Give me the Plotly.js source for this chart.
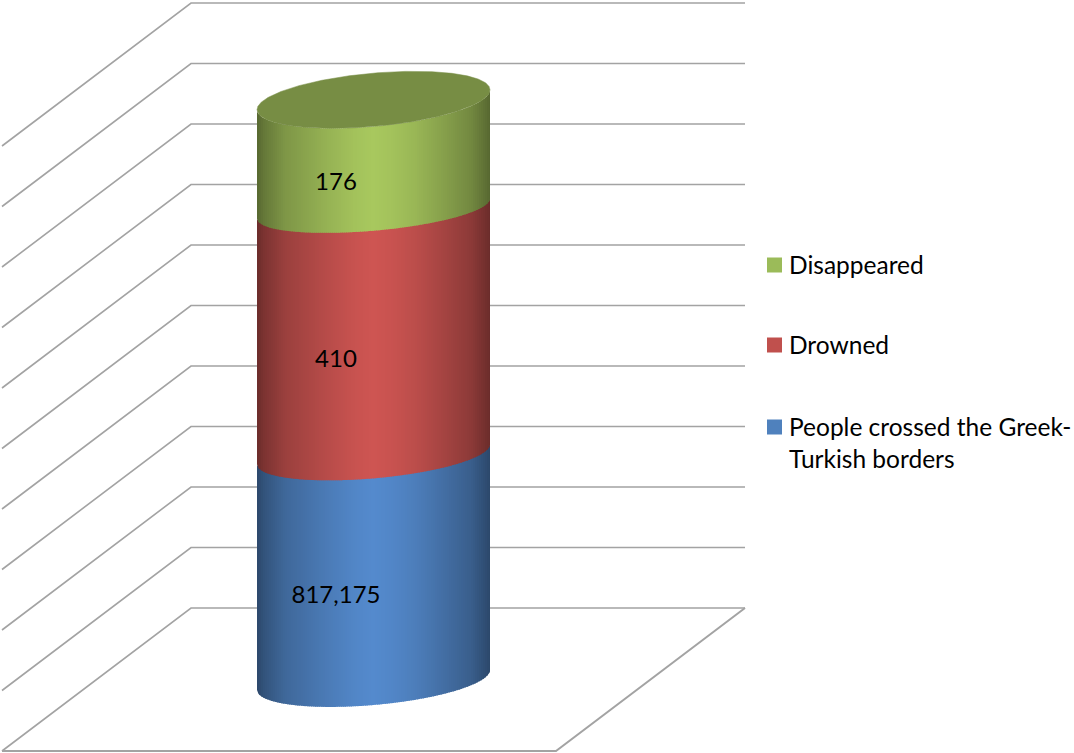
<!DOCTYPE html>
<html><head><meta charset="utf-8">
<script src="https://cdn.plot.ly/plotly-3.0.1.min.js"></script>
<style>html,body{margin:0;padding:0;background:#fff}#c{width:1074px;height:753px}</style>
</head><body><div id="c"></div>
<script>
// ---- data ----
const seriesNames = ["People crossed the Greek-Turkish borders", "Drowned", "Disappeared"];
const seriesValues = [817175, 410, 176];
// drawn height of each stacked segment, in gridline steps (as the 3-D picture shows it)
const segmentHeights = [3.73, 4.06, 1.80];
const gridTicks = [0,1,2,3,4,5,6,7,8,9,10];
const peakColors = [[84,138,205],[206,85,82],[168,200,94]];
const legendOrder = [2,1,0];
const legendLabels = ["Disappeared","Drowned","People crossed the Greek-<br>Turkish borders"];

// ---- layout constants ----
const W=1074,H=753,STEP=60.5,Y0=608;
const yRange=[(Y0-H)/STEP,(Y0-0)/STEP];
const wallL=191,wallR=745,depthX=189,depthY=143/STEP;
const cylL=257,cylR=490,cx=(cylL+cylR)/2,a=(cylR-cylL)/2;
const baseV=(Y0-680)/STEP, slope=(20/233)/STEP;   // rim tilt, steps per x unit
const rimB=[25,24,22,26.7].map(d=>d/STEP);
const GRID="#a3a3a3", FONT="Lato, Carlito, 'Open Sans', sans-serif";
const shade=[[0,.52],[.03,.6],[.12,.75],[.3,.89],[.42,.97],[.5,1],[.58,.97],[.68,.91],[.8,.8],[.92,.68],[1,.52]];
function factor(u){for(let i=1;i<shade.length;i++){if(u<=shade[i][0]){const t=(u-shade[i-1][0])/(shade[i][0]-shade[i-1][0]);return shade[i-1][1]+t*(shade[i][1]-shade[i-1][1]);}}return shade[shade.length-1][1];}

const traces=[];
// gridlines: wall + side wall
gridTicks.forEach(v=>{
  traces.push({type:"scatter",mode:"lines",x:[wallL-depthX,wallL,wallR],y:[v-depthY,v,v],
    line:{color:GRID,width:1.6},hoverinfo:"skip",showlegend:false});
});
// floor
traces.push({type:"scatter",mode:"lines",x:[wallL-depthX,wallR-depthX,wallR],y:[-depthY,-depthY,0],
  line:{color:GRID,width:2},hoverinfo:"skip",showlegend:false});

// cylinder
const boundaries=[baseV];
segmentHeights.forEach(h=>boundaries.push(boundaries[boundaries.length-1]+h));
function arc(x,i,sign){const d=Math.max(0,1-((x-cx)/a)**2);return boundaries[i]+slope*(x-cx)-sign*rimB[i]*Math.sqrt(d);}
const stripW=2;
seriesNames.forEach((name,s)=>{
  for(let x0=cylL;x0<cylR;x0+=stripW){
    const x1=Math.min(x0+stripW+0.8,cylR);
    const f=factor((x0+stripW/2-cylL)/(cylR-cylL));
    const col=peakColors[s].map(c=>Math.round(c*f));
    const xs=[],ys=[];
    const n=4;
    for(let k=0;k<=n;k++){const x=x0+(x1-x0)*k/n;xs.push(x);ys.push(arc(x,s,1));}
    for(let k=n;k>=0;k--){const x=x0+(x1-x0)*k/n;xs.push(x);ys.push(arc(x,s+1,1)+(s<2?1/STEP:0));}
    traces.push({type:"scatter",mode:"lines",x:xs,y:ys,fill:"toself",fillcolor:`rgb(${col})`,
      line:{width:0,color:`rgb(${col})`},name:name,hoverinfo:"skip",showlegend:false});
  }
});
// top cap
const capX=[],capY=[];
for(let x=cylL;x<=cylR;x+=1){capX.push(x);capY.push(arc(x,3,1));}
for(let x=cylR;x>=cylL;x-=1){capX.push(x);capY.push(arc(x,3,-1));}
traces.push({type:"scatter",mode:"lines",x:capX,y:capY,fill:"toself",fillcolor:"#778d44",
  line:{width:0.5,color:"#778d44"},hoverinfo:"skip",showlegend:false});

// data labels
const labelX=cx-37.5;
traces.push({type:"scatter",mode:"text",
  x:seriesValues.map(()=>labelX),
  y:seriesValues.map((_,i)=>(boundaries[i]+boundaries[i+1])/2-29.5/STEP),
  text:seriesValues.map(v=>v.toLocaleString("en-US")),
  textposition:"middle center",textfont:{family:FONT,size:24,color:"#000"},
  hoverinfo:"skip",showlegend:false});

// legend (in page fractions)
const legendRowsPx=[265,345,427];
const swatchColors=["#9bbb59","#c0504d","#4f81bd"];
const shapes=[],annotations=[];
legendOrder.forEach((s,i)=>{
  const yc=1-legendRowsPx[i]/H;
  shapes.push({type:"rect",xref:"paper",yref:"paper",x0:767/W,x1:782/W,
    y0:yc-7.5/H,y1:yc+7.5/H,fillcolor:swatchColors[i],line:{width:0}});
  annotations.push({xref:"paper",yref:"paper",x:788/W,y:yc+16/H,xanchor:"left",yanchor:"top",
    align:"left",showarrow:false,text:legendLabels[i],borderpad:0,
    font:{family:FONT,size:24.5,color:"#000"}});
});

Plotly.newPlot("c",traces,{
  width:W,height:H,margin:{l:0,r:0,t:0,b:0},showlegend:false,
  paper_bgcolor:"#fff",plot_bgcolor:"#fff",
  xaxis:{range:[0,W],visible:false,fixedrange:true},
  yaxis:{range:yRange,visible:false,fixedrange:true},
  shapes:shapes,annotations:annotations
},{displayModeBar:false,staticPlot:true});
</script></body></html>
